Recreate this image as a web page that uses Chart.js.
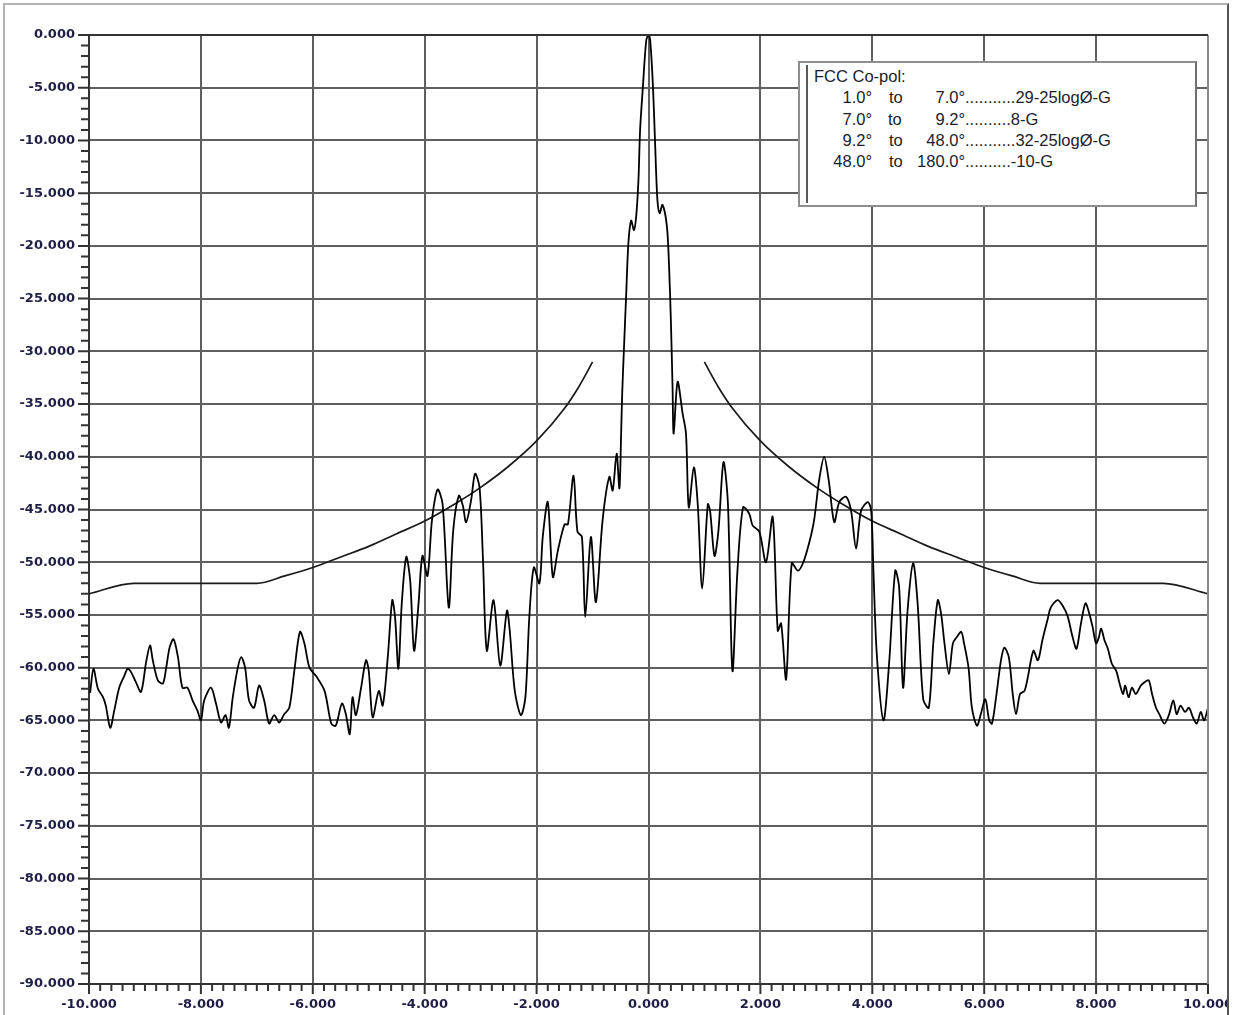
<!DOCTYPE html>
<html lang="en">

<head>
    <meta charset="UTF-8">
    <title>FCC Co-pol pattern</title>
    <script src="https://cdn.jsdelivr.net/npm/chart.js"></script>
    <style>
        body { margin: 0; background: #fff; }
        #wrap { position: absolute; left: 0; top: 0; width: 1229px; height: 1015px; overflow: hidden; }
        #frame { position: absolute; left: 3px; top: 3px; width: 1226px; height: 1100px; box-sizing: border-box;
                 border: 2px solid #b4b4b4; border-right-color: #555; pointer-events: none; }
        #fccBox { position: absolute; left: 798px; top: 61px; width: 399px; height: 146px; box-sizing: border-box;
                  background: #fff; border: 2px solid #8e8e8e; border-right-color: #707070; }
        #fccBox::before { content: ""; position: absolute; left: 6px; top: 2px; bottom: 2px; width: 2px; background: #5a5a5a; }
        .lg { position: absolute; font: 16.5px "Liberation Sans", Arial, sans-serif; color: #1c1c2c;
              line-height: 21px; white-space: pre; }
        .r { text-align: right; }
    </style>
</head>

<body>
    <div id="wrap">
        <canvas id="myChart" width="1233" height="1015"></canvas>
    </div>
    <div id="frame"></div>

    <div id="fccBox"></div>
    <div class="lg" style="left:814px;top:66px;">FCC Co-pol:</div>
    <div class="lg r" style="left:800px;width:72px;top:87px;">1.0°</div>
    <div class="lg" style="left:889px;top:87px;">to</div>
    <div class="lg r" style="left:900px;width:65px;top:87px;">7.0°</div>
    <div class="lg" style="left:965px;top:87px;">...........29-25logØ-G</div>
    <div class="lg r" style="left:800px;width:72px;top:108.5px;">7.0°</div>
    <div class="lg" style="left:888px;top:108.5px;">to</div>
    <div class="lg r" style="left:900px;width:65px;top:108.5px;">9.2°</div>
    <div class="lg" style="left:965px;top:108.5px;">..........8-G</div>
    <div class="lg r" style="left:800px;width:72px;top:130px;">9.2°</div>
    <div class="lg" style="left:889px;top:130px;">to</div>
    <div class="lg r" style="left:900px;width:65px;top:130px;">48.0°</div>
    <div class="lg" style="left:965px;top:130px;">...........32-25logØ-G</div>
    <div class="lg r" style="left:800px;width:72px;top:151px;">48.0°</div>
    <div class="lg" style="left:889px;top:151px;">to</div>
    <div class="lg r" style="left:900px;width:65px;top:151px;">180.0°</div>
    <div class="lg" style="left:965px;top:151px;">..........-10-G</div>

    <script>
        const patternAngle = [
            -9.98, -9.92, -9.84, -9.75, -9.70, -9.62, -9.55, -9.46, -9.37, -9.31, -9.25, -9.16, -9.07,
            -8.98, -8.91, -8.86, -8.77, -8.68, -8.62, -8.56, -8.49, -8.41, -8.33, -8.24, -8.15, -8.06,
            -8.00, -7.94, -7.82, -7.73, -7.64, -7.56, -7.50, -7.43, -7.34, -7.28, -7.21, -7.14, -7.05,
            -6.96, -6.87, -6.78, -6.69, -6.60, -6.51, -6.42, -6.33, -6.23, -6.15, -6.06, -5.94, -5.79,
            -5.67, -5.59, -5.48, -5.41, -5.34, -5.29, -5.23, -5.14, -5.05, -5.00, -4.93, -4.82, -4.75,
            -4.66, -4.58, -4.53, -4.47, -4.41, -4.33, -4.26, -4.19, -4.11, -4.04, -3.95, -3.87, -3.77,
            -3.68, -3.57, -3.49, -3.39, -3.32, -3.26, -3.17, -3.10, -3.02, -2.96, -2.89, -2.77, -2.65,
            -2.53, -2.48, -2.39, -2.28, -2.20, -2.13, -2.05, -1.95, -1.89, -1.80, -1.71, -1.62, -1.50,
            -1.44, -1.34, -1.27, -1.19, -1.13, -1.03, -0.94, -0.82, -0.70, -0.64, -0.57, -0.52, -0.49,
            -0.47, -0.44, -0.40, -0.36, -0.31, -0.26, -0.22, -0.18, -0.15, -0.10, -0.04, 0.00, 0.03,
            0.08, 0.12, 0.16, 0.20, 0.25, 0.33, 0.37, 0.40, 0.43, 0.45, 0.52, 0.61, 0.67, 0.72,
            0.81, 0.88, 0.96, 1.06, 1.10, 1.18, 1.25, 1.34, 1.42, 1.50, 1.59, 1.69, 1.80, 1.86,
            1.98, 2.10, 2.22, 2.31, 2.37, 2.46, 2.56, 2.67, 2.76, 2.87, 2.96, 3.05, 3.14, 3.22,
            3.32, 3.41, 3.53, 3.62, 3.71, 3.80, 3.92, 3.98, 4.02, 4.08, 4.20, 4.30, 4.41, 4.48,
            4.55, 4.63, 4.73, 4.81, 4.91, 5.01, 5.09, 5.17, 5.23, 5.29, 5.37, 5.44, 5.51, 5.59,
            5.64, 5.72, 5.78, 5.87, 5.94, 6.02, 6.09, 6.14, 6.22, 6.30, 6.36, 6.44, 6.51, 6.57,
            6.64, 6.72, 6.78, 6.88, 6.96, 7.04, 7.13, 7.19, 7.31, 7.40, 7.49, 7.58, 7.65, 7.73,
            7.81, 7.88, 7.94, 8.00, 8.05, 8.09, 8.15, 8.21, 8.28, 8.36, 8.42, 8.48, 8.52, 8.58,
            8.64, 8.71, 8.80, 8.86, 8.94, 9.00, 9.07, 9.13, 9.22, 9.30, 9.38, 9.44, 9.51, 9.59,
            9.66, 9.73, 9.80, 9.87, 9.93, 10.00
        ];
        const patternLevel = [
            -62.4, -60.1, -62.0, -62.8, -63.6, -65.7, -64.1, -61.9, -60.8, -60.1, -60.4, -61.4, -62.3,
            -59.5, -57.9, -59.3, -61.2, -61.5, -60.0, -58.1, -57.3, -59.0, -61.9, -61.9, -63.1, -64.1,
            -65.0, -63.1, -61.9, -63.4, -65.2, -64.5, -65.7, -62.8, -60.0, -59.0, -60.0, -63.1, -63.8,
            -61.7, -63.1, -65.3, -64.5, -65.2, -64.4, -63.8, -60.3, -56.6, -57.7, -60.0, -60.8, -62.2,
            -65.3, -65.5, -63.4, -64.4, -66.3, -62.8, -64.5, -62.0, -59.3, -60.3, -64.7, -62.2, -63.6,
            -59.0, -53.6, -55.2, -60.1, -53.9, -49.5, -51.7, -58.4, -53.9, -49.4, -51.3, -46.0, -43.1,
            -44.5, -54.3, -47.0, -43.7, -44.6, -46.2, -44.1, -41.6, -42.9, -49.5, -58.4, -53.6, -59.8,
            -54.6, -56.5, -62.2, -64.5, -62.8, -55.2, -50.5, -52.0, -47.6, -44.3, -51.4, -48.9, -46.4,
            -46.4, -41.8, -47.1, -47.6, -55.2, -47.6, -53.8, -46.0, -41.9, -43.2, -39.7, -43.0, -38.0,
            -34.0, -29.9, -24.8, -19.8, -17.6, -18.5, -17.2, -13.8, -9.0, -4.9, -0.5, 0.0, -0.5,
            -4.9, -10.6, -15.7, -16.9, -16.1, -18.2, -22.3, -27.1, -33.4, -37.8, -32.9, -35.9, -37.8, -44.8,
            -41.0, -44.5, -52.5, -44.5, -45.1, -49.4, -47.0, -40.5, -44.5, -60.3, -50.8, -44.8, -45.4, -46.5,
            -47.1, -50.0, -45.7, -56.5, -55.8, -61.1, -50.1, -50.8, -50.1, -48.2, -46.0, -42.2, -40.0, -42.2,
            -46.2, -44.3, -43.8, -45.1, -48.7, -45.1, -44.3, -45.1, -50.8, -58.7, -65.0, -59.6, -50.8, -52.4,
            -61.9, -54.6, -50.1, -53.9, -63.0, -63.8, -57.7, -53.6, -54.9, -57.7, -60.6, -57.7, -57.1, -56.6,
            -57.7, -60.0, -63.8, -65.5, -64.4, -63.0, -65.0, -65.3, -62.5, -59.3, -58.1, -59.0, -62.5, -64.4,
            -62.5, -62.2, -60.9, -58.4, -59.3, -57.4, -55.5, -54.3, -53.6, -54.1, -55.1, -57.1, -58.2, -55.8,
            -53.9, -54.9, -56.2, -57.7, -57.1, -56.3, -57.4, -58.2, -59.6, -60.3, -61.5, -62.5, -61.7, -62.8,
            -61.9, -62.5, -61.7, -61.4, -61.2, -62.5, -63.8, -64.4, -65.3, -64.5, -63.1, -64.4, -63.6, -64.2,
            -63.8, -64.7, -65.3, -64.2, -65.0, -63.8
        ];

        // FCC envelope (gap in the middle)
        const maskAngle = [-10, -9.2, -7, -6.5, -6, -5.5, -5, -4.5, -4, -3.5, -3, -2.5, -2, -1.5, -1.25, -1.1, -1,
            0, 1, 1.1, 1.25, 1.5, 2, 2.5, 3, 3.5, 4, 4.5, 5, 5.5, 6, 6.5, 7, 9.2, 10];
        const maskLevel = [-53.0, -52.0, -52.0, -51.3, -50.5, -49.5, -48.5, -47.3, -46.1, -44.6, -42.9, -40.9, -38.5, -35.4, -33.4, -32.0, -31.0,
            null, -31.0, -32.0, -33.4, -35.4, -38.5, -40.9, -42.9, -44.6, -46.1, -47.3, -48.5, -49.5, -50.5, -51.3, -52.0, -52.0, -53.0];

        // axis labels
        const xLabels = [-10, -8, -6, -4, -2, 0, 2, 4, 6, 8, 10];
        const yLabels = [0, -5, -10, -15, -20, -25, -30, -35, -40, -45, -50, -55, -60, -65, -70, -75, -80, -85, -90];

        const isMajorX = (v) => xLabels.includes(Math.round(v * 10) / 10);
        const isMajorY = (v) => yLabels.includes(Math.round(v));

        // tick marks + top/right frame of the plot area
        const frameTicks = {
            id: 'frameTicks',
            afterDraw(chart) {
                const { ctx, chartArea: a, scales: { x, y } } = chart;
                ctx.save();
                ctx.lineWidth = 2;
                ctx.strokeStyle = '#8a8a8a';
                ctx.beginPath();
                ctx.moveTo(a.right, a.top);
                ctx.lineTo(a.right, a.bottom);
                ctx.stroke();
                ctx.strokeStyle = '#333';
                ctx.beginPath();
                ctx.moveTo(a.left - 1, a.top);
                ctx.lineTo(a.right, a.top);
                y.ticks.forEach((t) => {
                    const py = y.getPixelForValue(t.value);
                    const len = isMajorY(t.value) ? 11 : 8;
                    ctx.moveTo(a.left, py);
                    ctx.lineTo(a.left - len, py);
                });
                x.ticks.forEach((t) => {
                    const px = x.getPixelForValue(t.value);
                    const len = isMajorX(t.value) ? 10 : 7;
                    ctx.moveTo(px, a.bottom);
                    ctx.lineTo(px, a.bottom + len);
                });
                ctx.stroke();
                ctx.restore();
            }
        };

        const tickFont = { family: 'DejaVu Sans', size: 13, weight: 'bold' };

        new Chart(document.getElementById('myChart'), {
            type: 'scatter',
            data: {
                datasets: [
                    {
                        label: 'pattern',
                        data: patternAngle.map((a, i) => ({ x: a, y: patternLevel[i] })),
                        showLine: true,
                        pointRadius: 0,
                        borderColor: '#000',
                        borderWidth: 1.8,
                        tension: 0.3,
                    },
                    {
                        label: 'FCC mask',
                        data: maskAngle.map((a, i) => ({ x: a, y: maskLevel[i] })),
                        showLine: true,
                        spanGaps: false,
                        pointRadius: 0,
                        borderColor: '#1a1a1a',
                        borderWidth: 1.7,
                        cubicInterpolationMode: 'monotone',
                    }
                ]
            },
            plugins: [frameTicks],
            options: {
                responsive: false,
                animation: false,
                events: [],
                layout: { padding: { left: 0, top: 35, right: 25, bottom: 0 } },
                plugins: { legend: { display: false }, tooltip: { enabled: false } },
                scales: {
                    x: {
                        type: 'linear',
                        min: -10,
                        max: 10,
                        afterFit: (s) => { s.height = 31; s.paddingLeft = 0; s.paddingRight = 0; },
                        border: { color: '#333', width: 2 },
                        grid: {
                            drawTicks: false,
                            lineWidth: 2,
                            color: (c) => (c.tick && isMajorX(c.tick.value) ? '#5f5f5f' : 'rgba(0,0,0,0)'),
                        },
                        ticks: {
                            stepSize: 0.2,
                            autoSkip: false,
                            maxRotation: 0,
                            padding: 13,
                            color: '#1e1e46',
                            font: tickFont,
                            callback: (v) => (isMajorX(v) ? v.toFixed(3) : ''),
                        }
                    },
                    y: {
                        type: 'linear',
                        min: -90,
                        max: 0,
                        afterFit: (s) => { s.width = 89; s.paddingTop = 0; s.paddingBottom = 0; },
                        border: { color: '#333', width: 2 },
                        grid: {
                            drawTicks: false,
                            lineWidth: 2,
                            color: (c) => (c.tick && isMajorY(c.tick.value) ? '#5f5f5f' : 'rgba(0,0,0,0)'),
                        },
                        ticks: {
                            stepSize: 1,
                            autoSkip: false,
                            padding: 14,
                            color: '#1e1e46',
                            font: tickFont,
                            callback: (v) => (isMajorY(v) ? v.toFixed(3) : ''),
                        }
                    }
                }
            }
        });
    </script>
</body>

</html>
